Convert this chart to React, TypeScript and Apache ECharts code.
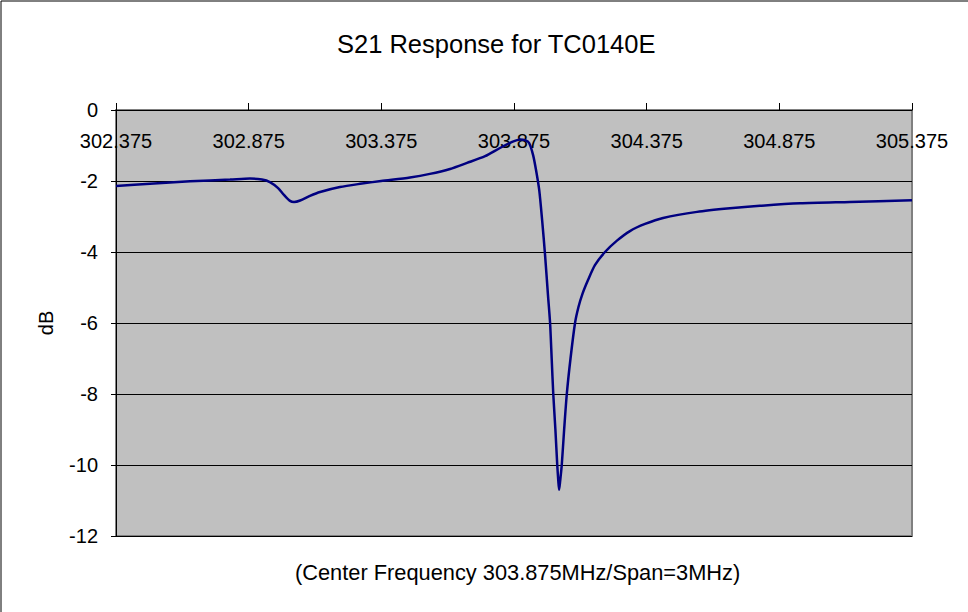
import React, { useEffect, useRef } from "react";
import * as echarts from "echarts";

const FONT = "'Liberation Sans', Arial, sans-serif";

const titleText = "S21 Response for TC0140E";
const xAxisTitle = "(Center Frequency 303.875MHz/Span=3MHz)";
const yAxisTitle = "dB";

// Frequency (MHz)
const freqMHz = [
  302.375, 302.503, 302.654, 302.805, 302.88, 302.925, 302.955, 302.986, 303.008,
  303.031, 303.046, 303.069, 303.106, 303.144, 303.219, 303.295, 303.374, 303.483,
  303.558, 303.634, 303.698, 303.766, 303.822, 303.868, 303.898, 303.917, 303.932,
  303.947, 303.958, 303.97, 303.981, 303.992, 304.003, 304.011, 304.017, 304.023,
  304.031, 304.038, 304.042, 304.045, 304.049, 304.055, 304.064, 304.074, 304.088,
  304.105, 304.118, 304.133, 304.154, 304.18, 304.218, 304.263, 304.312, 304.369,
  304.437, 304.565, 304.689, 304.802, 304.953, 305.141, 305.375,
];

// S21 (dB)
const s21dB = [
  -2.14, -2.08, -2.01, -1.96, -1.93, -1.96, -2.03, -2.2, -2.39,
  -2.56, -2.59, -2.55, -2.42, -2.31, -2.17, -2.08, -2.0, -1.9,
  -1.8, -1.66, -1.49, -1.3, -1.07, -0.9, -0.83, -0.85, -0.93,
  -1.27, -1.69, -2.25, -3.1, -4.08, -5.21, -6.0, -7.0, -8.0,
  -9.0, -10.0, -10.45, -10.7, -10.45, -10.0, -9.0, -8.0, -7.0,
  -6.0, -5.55, -5.18, -4.79, -4.37, -4.0, -3.68, -3.41, -3.21,
  -3.04, -2.87, -2.77, -2.7, -2.63, -2.59, -2.54,
];

const xMin = 302.375;
const xMax = 305.375;
const xStep = 0.5;
const yMin = -12;
const yMax = 0;
const yStep = 2;

export default function App() {
  const ref = useRef<HTMLDivElement>(null);

  useEffect(() => {
    document.body.style.margin = "0";
    if (!ref.current) return;
    const chart = echarts.init(ref.current, undefined, { renderer: "svg" });
    const data = freqMHz.map((f, i) => [f, s21dB[i]]);
    chart.setOption({
      animation: false,
      backgroundColor: "#ffffff",
      textStyle: { fontFamily: FONT },
      title: {
        text: titleText,
        left: 332,
        top: 26,
        textStyle: { fontFamily: FONT, fontSize: 25.5, fontWeight: "normal", color: "#000" },
      },
      grid: {
        left: 116,
        top: 110,
        right: 56,
        bottom: 76,
        show: true,
        backgroundColor: "#C0C0C0",
        borderColor: "#808080",
        borderWidth: 2,
      },
      xAxis: {
        type: "value",
        position: "top",
        min: xMin,
        max: xMax,
        interval: xStep,
        axisLine: { show: true, onZero: false, lineStyle: { color: "#000", width: 1 } },
        axisTick: { show: true, inside: false, length: 7, lineStyle: { color: "#000" } },
        axisLabel: {
          inside: true,
          margin: 21,
          color: "#000",
          fontSize: 20,
          fontFamily: FONT,
          formatter: (v: number) => v.toFixed(3),
        },
        splitLine: { show: false },
      },
      yAxis: {
        type: "value",
        min: yMin,
        max: yMax,
        interval: yStep,
        name: yAxisTitle,
        nameLocation: "middle",
        nameRotate: 90,
        nameGap: 60,
        nameTextStyle: { color: "#000", fontSize: 20, fontFamily: FONT },
        axisLine: { show: true, lineStyle: { color: "#000", width: 1 } },
        axisTick: { show: true, inside: false, length: 5, lineStyle: { color: "#000" } },
        axisLabel: { margin: 18, color: "#000", fontSize: 20, fontFamily: FONT },
        splitLine: { show: true, lineStyle: { color: "#000", width: 1 } },
      },
      graphic: [
        {
          type: "text",
          left: 295,
          top: 561,
          style: {
            text: xAxisTitle,
            fontSize: 21.8,
            fontFamily: FONT,
            fill: "#000",
          },
        },
        {
          type: "rect",
          shape: { x: 1, y: 1, width: 990, height: 640 },
          style: { fill: "none", stroke: "#000", lineWidth: 1 },
          silent: true,
        },
      ],
      series: [
        {
          type: "line",
          data,
          showSymbol: false,
          smooth: 0.25,
          lineStyle: { color: "#000080", width: 2.5 },
          z: 3,
        },
      ],
    });
    return () => chart.dispose();
  }, []);

  return (
    <div
      ref={ref}
      style={{ position: "absolute", left: 0, top: 0, width: 968, height: 612 }}
    />
  );
}
